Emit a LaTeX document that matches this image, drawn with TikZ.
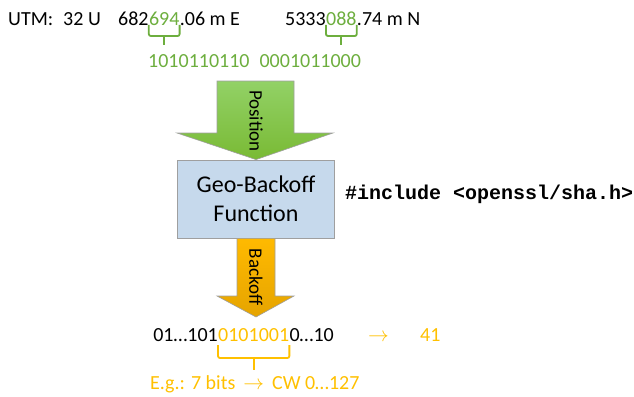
\documentclass[tikz,border=0pt]{standalone}
\usepackage{fontspec}
\setmainfont{Carlito}
\setmonofont{Liberation Mono}
\usetikzlibrary{calc}

\definecolor{posgreen}{HTML}{6DAE3E}
\definecolor{bogold}{HTML}{FFC000}
\definecolor{boxblue}{HTML}{C6D9EC}

\tikzset{
  txt/.style={inner sep=0pt, anchor=base west, font=\fontsize{20}{24}\selectfont},
  gbrace/.style={draw=posgreen, line width=1.8pt, rounded corners=2pt},
  obrace/.style={draw=bogold, line width=1.8pt, rounded corners=2pt},
  blockarrow/.style={draw=gray!75, line width=0.6pt},
  funbox/.style={draw=gray!75, line width=0.8pt, fill=boxblue, minimum width=157pt,
    minimum height=78pt, align=center, font=\fontsize{24}{29}\selectfont}
}

\begin{document}
\begin{tikzpicture}[x=1pt,y=1pt]
\useasboundingbox (0,0) rectangle (634,-396);

% UTM line
\node [txt] (utm) at (8,-26) {UTM:};
\node [txt] (zone) at (63,-26) {32 U};
\node [txt] (e1) at (118,-26) {682};
\node [txt, text=posgreen] (e2) at (e1.base east) {694};
\node [txt] (e3) at (e2.base east) {.06 m E};
\node [txt] (n1) at (285,-26) {5333};
\node [txt, text=posgreen] (n2) at (n1.base east) {088};
\node [txt] (n3) at (n2.base east) {.74 m N};

\draw [gbrace] ([yshift=1pt]e2.base west) |- ([yshift=-10pt]e2.base) -| ([yshift=1pt]e2.base east);
\draw [gbrace] ([yshift=-10pt]e2.base) -- ++(0,-9);
\draw [gbrace] ([yshift=1pt]n2.base west) |- ([yshift=-10pt]n2.base) -| ([yshift=1pt]n2.base east);
\draw [gbrace] ([yshift=-10pt]n2.base) -- ++(0,-9);

\node [txt, text=posgreen] (bits) at (148,-67) {1010110110\hspace{10pt}0001011000};

% function box
\node [funbox] (geo) at (256,-199) {Geo-Backoff\\Function};
\node [txt, font=\ttfamily\bfseries\fontsize{20}{24}\selectfont] (incl) at (345,-199) {\#include <openssl/sha.h>};

% block arrows
\draw [blockarrow, top color=green!45!lime!70!black!60!white, bottom color=posgreen!85!lime]
  (217,-81) -- (294,-81) -- (294,-133) -- (333,-133) -- (geo.north)
  -- (177,-133) -- (217,-133) -- cycle;
\node [rotate=-90, inner sep=0pt, font=\fontsize{19}{22}\selectfont] (poslbl) at (256,-121) {Position};

\draw [blockarrow, top color=bogold!90!orange, bottom color=bogold!85!orange!90!black]
  ($(geo.south)+(-19,0)$) -- ($(geo.south)+(19,0)$) -- (275,-296) -- (294,-296)
  -- (256,-317) -- (217,-296) -- (237,-296) -- cycle;
\node [rotate=-90, inner sep=0pt, font=\fontsize{19}{22}\selectfont] (bolbl) at (256,-277) {Backoff};

% backoff bits
\node [txt, text=bogold] (b2) at (218,-341) {0101001};
\node [txt, anchor=base east] (b1) at (b2.base west) {01…101};
\node [txt] (b3) at (b2.base east) {0…10};
\node [txt, text=bogold, font=\fontsize{21}{24}\selectfont] (arr) at (368,-341) {$\rightarrow$};
\node [txt, text=bogold] (cw) at (420,-341) {41};

\draw [obrace] ([yshift=-4pt]b2.base west) |- ([yshift=-17pt]b2.base) -| ([yshift=-4pt]b2.base east);
\draw [obrace] ([yshift=-17pt]b2.base) -- ++(0,-12);

\node [txt, text=bogold] (eg) at (150,-389) {E.g.: 7 bits\hspace{8pt}{\fontsize{21}{24}\selectfont$\rightarrow$}\hspace{8pt}CW 0…127};
\end{tikzpicture}
\end{document}
